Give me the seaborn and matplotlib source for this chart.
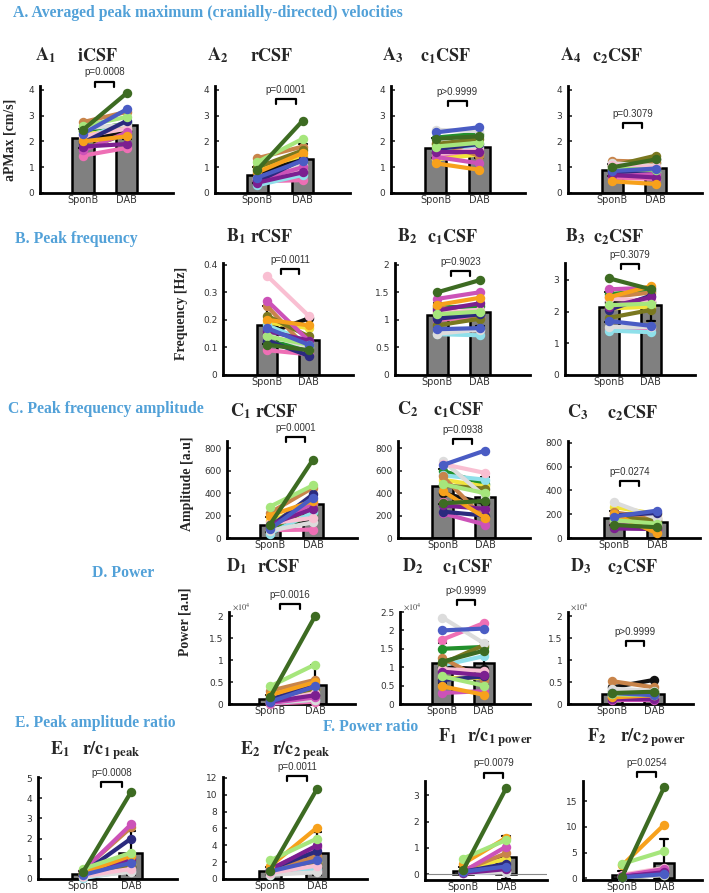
import numpy as np
import pandas as pd
import matplotlib
matplotlib.use('Agg')
import matplotlib.pyplot as plt
import seaborn as sns
from matplotlib.ticker import FixedLocator, FuncFormatter

W, H, DPI = 709, 893, 100

sns.set_style('ticks')
plt.rcParams['font.family'] = ['DejaVu Sans']
plt.rcParams['mathtext.fontset'] = 'stix'

CONDITIONS = ['SponB', 'DAB']
# one colour per animal (same animal in every panel)
SUBJECT_COLORS = ['#3d6b22', '#4a5cc4', '#a6e67c', '#f7a11c', '#7c1f90', '#2b2a7e',
                  '#cc52b8', '#f9bfd2', '#dcdcdc', '#7a7820', '#c8844a', '#8fe0ea',
                  '#f1e33c', '#22902c', '#ee6fb5', '#111111']

# ---------------- data (SponB / DAB per animal) ----------------
A1_SPONB = [2.45, 2.3, 2.6, 2.0, 1.8, 1.95, 1.65, 2.2, 2.5, 1.7, 2.75, 2.1, 2.25, 2.4, 1.45, 2.0]
A1_DAB = [3.88, 3.25, 2.95, 2.2, 1.9, 2.8, 2.35, 2.5, 2.65, 2.3, 3.15, 2.75, 2.5, 2.7, 1.75, 2.4]
A2_SPONB = [0.9, 0.6, 1.2, 0.8, 0.4, 0.45, 0.5, 0.55, 0.6, 1.0, 1.35, 0.3, 0.95, 0.35, 0.45, 0.75]
A2_DAB = [2.8, 1.25, 2.1, 1.55, 0.8, 1.3, 1.0, 0.9, 1.1, 1.65, 1.8, 0.7, 1.45, 1.15, 0.5, 1.35]
A3_SPONB = [2.1, 2.35, 1.8, 1.15, 1.6, 1.7, 1.4, 1.5, 2.45, 1.9, 1.95, 1.65, 1.3, 2.15, 1.35, 1.55]
A3_DAB = [2.2, 2.55, 1.95, 0.9, 1.6, 1.9, 1.15, 1.7, 2.4, 2.1, 1.45, 1.8, 1.5, 2.3, 1.6, 1.7]
A4_SPONB = [1.0, 0.85, 0.95, 0.45, 0.7, 0.8, 0.65, 1.1, 1.15, 1.05, 1.25, 0.75, 0.9, 0.95, 0.6, 1.1]
A4_DAB = [1.3, 0.95, 0.9, 0.35, 0.6, 0.9, 0.75, 1.0, 1.05, 1.45, 1.2, 0.8, 1.0, 1.15, 0.55, 1.3]

B1_SPONB = [0.11, 0.17, 0.14, 0.2, 0.16, 0.125, 0.27, 0.36, 0.145, 0.215, 0.25, 0.18, 0.19, 0.12, 0.09, 0.15]
B1_DAB = [0.09, 0.11, 0.11, 0.18, 0.125, 0.07, 0.125, 0.215, 0.10, 0.14, 0.09, 0.12, 0.17, 0.10, 0.075, 0.205]
B2_SPONB = [1.5, 0.83, 1.1, 1.27, 1.17, 1.02, 1.38, 1.12, 0.75, 0.9, 1.25, 0.74, 1.15, 1.22, 1.0, 1.05]
B2_DAB = [1.72, 0.85, 1.15, 1.4, 1.3, 1.1, 1.5, 1.18, 0.82, 1.02, 1.03, 0.72, 1.15, 1.25, 1.05, 1.1]
B3_SPONB = [3.05, 1.7, 2.2, 2.45, 2.15, 2.05, 2.7, 2.4, 1.5, 1.8, 2.45, 1.4, 2.1, 2.55, 1.45, 2.3]
B3_DAB = [2.7, 1.55, 2.25, 2.8, 2.45, 2.5, 2.75, 2.35, 1.5, 2.05, 2.6, 1.35, 2.15, 2.65, 1.45, 2.3]

C1_SPONB = [120, 80, 280, 200, 120, 100, 110, 130, 65, 90, 225, 40, 150, 60, 70, 50]
C1_DAB = [700, 360, 470, 330, 260, 390, 310, 180, 140, 270, 450, 230, 300, 210, 75, 160]
C2_SPONB = [310, 650, 480, 420, 290, 235, 220, 660, 690, 470, 550, 560, 520, 600, 320, 400]
C2_DAB = [330, 780, 400, 180, 260, 200, 120, 580, 370, 440, 170, 520, 460, 480, 250, 310]
C3_SPONB = [110, 180, 150, 200, 80, 190, 120, 140, 300, 170, 215, 160, 260, 150, 130, 100]
C3_DAB = [90, 230, 120, 40, 75, 210, 70, 110, 165, 150, 165, 130, 200, 140, 100, 120]

D1_SPONB = [1500, 500, 4000, 2000, 500, 1000, 200, 500, 300, 1000, 3000, 200, 1000, 800, 100, 500]
D1_DAB = [20000, 4000, 9000, 5000, 2000, 4500, 1500, 2500, 1000, 3500, 5500, 1000, 3500, 2500, 500, 2000]
D2_SPONB = [11500, 20000, 7500, 4800, 8800, 6500, 3000, 9500, 23500, 11000, 12500, 10500, 7000, 15000, 17500, 10000]
D2_DAB = [14500, 20500, 5000, 2500, 7800, 7500, 3500, 9000, 16500, 16000, 6500, 13000, 7000, 15500, 22000, 9500]
D3_SPONB = [2500, 2500, 2200, 1500, 1200, 2000, 1000, 1500, 3500, 3000, 5200, 2000, 1800, 2200, 1200, 3800]
D3_DAB = [2800, 2000, 2000, 2000, 1200, 2000, 1000, 1500, 3000, 3000, 3800, 2500, 2200, 2500, 1200, 5500]

E1_SPONB = [0.35, 0.2, 0.5, 0.3, 0.35, 0.3, 0.4, 0.15, 0.1, 0.2, 0.45, 0.05, 0.25, 0.25, 0.2, 0.25]
E1_DAB = [4.3, 0.8, 1.3, 1.15, 1.0, 2.0, 2.7, 0.5, 0.35, 0.65, 2.55, 0.4, 0.75, 0.9, 0.4, 0.6]
E2_SPONB = [1.0, 0.9, 2.2, 1.5, 1.1, 1.2, 1.2, 0.7, 0.5, 0.6, 1.0, 0.5, 0.8, 0.6, 0.6, 0.7]
E2_DAB = [10.7, 2.2, 4.8, 6.1, 4.0, 3.3, 3.8, 1.6, 0.8, 1.8, 2.7, 1.2, 2.0, 1.5, 1.0, 1.3]
F1_SPONB = [0.15, 0.1, 0.6, 0.4, 0.05, 0.1, 0.1, 0.1, 0.05, 0.1, 0.15, 0.05, 0.15, 0.1, 0.05, 0.1]
F1_DAB = [3.25, 0.3, 1.3, 1.38, 0.2, 0.4, 1.05, 0.25, 0.1, 0.2, 0.8, 0.1, 0.6, 0.25, 0.1, 0.2]
F2_SPONB = [0.3, 0.2, 2.8, 2.5, 0.3, 0.3, 0.5, 0.7, 0.2, 0.2, 0.4, 0.2, 0.3, 0.3, 0.4, 0.2]
F2_DAB = [17.7, 0.8, 5.3, 10.4, 1.2, 1.0, 1.8, 2.0, 0.6, 0.7, 1.3, 0.7, 0.9, 0.9, 1.5, 0.6]

P_VALUES = {'A1': 'p=0.0008', 'A2': 'p=0.0001', 'A3': 'p>0.9999', 'A4': 'p=0.3079',
            'B1': 'p=0.0011', 'B2': 'p=0.9023', 'B3': 'p=0.3079',
            'C1': 'p=0.0001', 'C2': 'p=0.0938', 'C3': 'p=0.0274',
            'D1': 'p=0.0016', 'D2': 'p>0.9999', 'D3': 'p>0.9999',
            'E1': 'p=0.0008', 'E2': 'p=0.0011', 'F1': 'p=0.0079', 'F2': 'p=0.0254'}

TITLES = {'A1': ('A', '1', r'$\mathbf{iCSF}$'), 'A2': ('A', '2', r'$\mathbf{rCSF}$'),
          'A3': ('A', '3', r'$\mathbf{c_1CSF}$'), 'A4': ('A', '4', r'$\mathbf{c_2CSF}$'),
          'B1': ('B', '1', r'$\mathbf{rCSF}$'), 'B2': ('B', '2', r'$\mathbf{c_1CSF}$'),
          'B3': ('B', '3', r'$\mathbf{c_2CSF}$'),
          'C1': ('C', '1', r'$\mathbf{rCSF}$'), 'C2': ('C', '2', r'$\mathbf{c_1CSF}$'),
          'C3': ('C', '3', r'$\mathbf{c_2CSF}$'),
          'D1': ('D', '1', r'$\mathbf{rCSF}$'), 'D2': ('D', '2', r'$\mathbf{c_1CSF}$'),
          'D3': ('D', '3', r'$\mathbf{c_2CSF}$'),
          'E1': ('E', '1', r'$\mathbf{r/c}_{\mathbf{1\ peak}}$'),
          'E2': ('E', '2', r'$\mathbf{r/c}_{\mathbf{2\ peak}}$'),
          'F1': ('F', '1', r'$\mathbf{r/c}_{\mathbf{1\ power}}$'),
          'F2': ('F', '2', r'$\mathbf{r/c}_{\mathbf{2\ power}}$')}

SECTIONS = [('A. Averaged peak maximum (cranially-directed) velocities', 13, 17),
            ('B. Peak frequency', 15, 243),
            ('C. Peak frequency amplitude', 8, 413),
            ('D. Power', 92, 577),
            ('E. Peak amplitude ratio', 15, 727),
            ('F. Power ratio', 323, 731)]

YLABELS = [('aPMax [cm/s]', 10, 140), ('Frequency [Hz]', 182, 313),
           ('Amplitude [a.u]', 188, 484), ('Power [a.u]', 185, 622)]

# ---------------- layout (pixels) ----------------
# key: (data sponb, data dab, rect x0,x1,ytop,ybot, xlim, ylim, yticks, scale,
#       bracket centre, bracket y, title letter x, title name x, title baseline)
LAYOUT = {
    'A1': (A1_SPONB, A1_DAB, (40, 173, 86, 193), (-0.98, 2.05), (0, 4.15), [0, 1, 2, 3, 4], 1, 0.49, 4.32, 35, 77, 61),
    'A2': (A2_SPONB, A2_DAB, (215, 350, 86, 193), (-0.94, 2.05), (0, 4.15), [0, 1, 2, 3, 4], 1, 0.63, 3.64, 207, 250, 61),
    'A3': (A3_SPONB, A3_DAB, (391, 525, 86, 193), (-1.03, 2.05), (0, 4.15), [0, 1, 2, 3, 4], 1, 0.49, 3.55, 382, 420, 61),
    'A4': (A4_SPONB, A4_DAB, (568, 702, 86, 193), (-1.02, 2.06), (0, 4.15), [0, 1, 2, 3, 4], 1, 0.46, 2.72, 560, 592, 61),
    'B1': (B1_SPONB, B1_DAB, (223, 353, 263, 375), (-1.06, 2.07), (0, 0.406), [0, 0.1, 0.2, 0.3, 0.4], 1, 0.56, 0.384, 226, 250, 242),
    'B2': (B2_SPONB, B2_DAB, (395, 530, 263, 375), (-1.0, 2.18), (0, 2.03), [0, 0.5, 1, 1.5, 2], 1, 0.55, 1.886, 397, 427, 242),
    'B3': (B3_SPONB, B3_DAB, (565, 695, 263, 375), (-1.04, 2.05), (0, 3.53), [0, 1, 2, 3], 1, 0.5, 3.5, 565, 593, 242),
    'C1': (C1_SPONB, C1_DAB, (227, 357, 441, 538), (-1.0, 2.02), (0, 865), [0, 200, 400, 600, 800], 1, 0.59, 901, 230, 255, 417),
    'C2': (C2_SPONB, C2_DAB, (398, 530, 441, 538), (-1.05, 2.06), (0, 865), [0, 200, 400, 600, 800], 1, 0.47, 883, 397, 433, 415),
    'C3': (C3_SPONB, C3_DAB, (568, 700, 441, 538), (-1.07, 2.0), (0, 815), [0, 200, 400, 600, 800], 1, 0.37, 481, 567, 607, 418),
    'D1': (D1_SPONB, D1_DAB, (229, 355, 612, 704), (-0.91, 1.89), (0, 21000), [0, 5000, 10000, 15000, 20000], 1e4, 0.44, 22900, 226, 257, 572),
    'D2': (D2_SPONB, D2_DAB, (400, 530, 612, 704), (-1.02, 2.11), (0, 25000), [0, 5000, 10000, 15000, 20000, 25000], 1e4, 0.57, 28200, 402, 442, 572),
    'D3': (D3_SPONB, D3_DAB, (568, 693, 612, 704), (-1.07, 1.94), (0, 21000), [0, 5000, 10000, 15000, 20000], 1e4, 0.54, 14400, 570, 607, 572),
    'E1': (E1_SPONB, E1_DAB, (38, 177, 777, 879), (-0.94, 1.96), (0, 5.05), [0, 1, 2, 3, 4, 5], 1, 0.6, 4.8, 50, 82, 755),
    'E2': (E2_SPONB, E2_DAB, (223, 367, 777, 879), (-1.0, 2.06), (0, 12.1), [0, 2, 4, 6, 8, 10, 12], 1, 0.57, 12.2, 240, 272, 755),
    'F1': (F1_SPONB, F1_DAB, (425, 547, 781, 880), (-0.88, 1.95), (-0.21, 3.53), [0, 1, 2, 3], 1, 0.71, 3.85, 438, 467, 742),
    'F2': (F2_SPONB, F2_DAB, (583, 702, 781, 880), (-0.93, 1.9), (-0.33, 18.9), [0, 5, 10, 15], 1, 0.58, 20.7, 587, 620, 742),
}

SECTION_BLUE = '#52a1d8'
BAR_GRAY = '#808080'
TICK_COLOR = '#333333'

fig = plt.figure(figsize=(W / DPI, H / DPI), dpi=DPI)


def fx(px):
    return px / W


def fy(py):
    return 1 - py / H


for key, spec in LAYOUT.items():
    (sp, da, (x0, x1, yt, yb), xlim, ylim, yticks, scale,
     bcx, by, tlx, tnx, tby) = spec
    ax = fig.add_axes([x0 / W, 1 - yb / H, (x1 - x0) / W, (yb - yt) / H])
    n = len(sp)
    df = pd.DataFrame({'condition': np.repeat(CONDITIONS, n),
                       'value': np.concatenate([sp, da])})
    sns.barplot(data=df, x='condition', y='value', order=CONDITIONS, color=BAR_GRAY,
                saturation=1, width=0.48, edgecolor='black', linewidth=1.8,
                errorbar='sd', capsize=0.18,
                err_kws={'color': 'black', 'linewidth': 1.6}, ax=ax)
    if key == 'F1':
        ax.axhline(0, color='#888888', lw=0.8, zorder=1)
    for i in reversed(range(n)):
        ax.plot([0, 1], [sp[i], da[i]], color=SUBJECT_COLORS[i], lw=3.0,
                marker='o', ms=6.8, mew=0, solid_capstyle='round', zorder=4,
                clip_on=False)
    ax.set_xlim(*xlim)
    ax.set_ylim(*ylim)
    ax.yaxis.set_major_locator(FixedLocator(yticks))
    ax.yaxis.set_major_formatter(FuncFormatter(lambda v, _p, s=scale: f'{v / s:g}'))
    ax.set_xlabel('')
    ax.set_ylabel('')
    for side in ('top', 'right'):
        ax.spines[side].set_visible(False)
    for side in ('left', 'bottom'):
        ax.spines[side].set_linewidth(2.0)
        ax.spines[side].set_color('black')
    ax.tick_params(axis='y', direction='in', length=3, width=1.2, labelsize=6.5,
                   pad=4, labelcolor=TICK_COLOR)
    ax.tick_params(axis='x', length=0, labelsize=7, pad=1.5, labelcolor=TICK_COLOR)
    if scale != 1:
        ax.text(0.02, 1.0, r'$\times10^4$', transform=ax.transAxes, ha='left',
                va='bottom', fontsize=6, color='#444444',
                fontfamily='DejaVu Sans')

    # significance bracket
    h_px = (yb - yt)
    leg = 5 * (ylim[1] - ylim[0]) / h_px
    ax.plot([bcx - 0.22, bcx - 0.22, bcx + 0.22, bcx + 0.22],
            [by - leg, by, by, by - leg], color='black', lw=1.6, clip_on=False,
            zorder=5)
    ax.annotate(P_VALUES[key], xy=(bcx, by), xytext=(0, 3), textcoords='offset points',
                ha='center', va='bottom', fontsize=7, color='#333333',
                annotation_clip=False,
                fontfamily=['Liberation Sans Narrow', 'Liberation Sans'])

    # panel title
    letter, sub, name = TITLES[key]
    fig.text(fx(tlx), fy(tby), r'$\mathbf{' + letter + r'}_{\mathbf{' + sub + r'}}$',
             fontsize=13, ha='left', va='baseline')
    fig.text(fx(tnx), fy(tby), name, fontsize=13, ha='left', va='baseline')

for text, x, y in SECTIONS:
    fig.text(fx(x), fy(y), text, fontsize=11.3, fontweight='bold',
             fontfamily='Liberation Serif', color=SECTION_BLUE, ha='left', va='baseline')

for text, x, y in YLABELS:
    fig.text(fx(x), fy(y), text, fontsize=10, fontweight='bold',
             fontfamily='Liberation Serif', rotation=90, ha='center', va='center')

fig.savefig('out.png', dpi=DPI)
